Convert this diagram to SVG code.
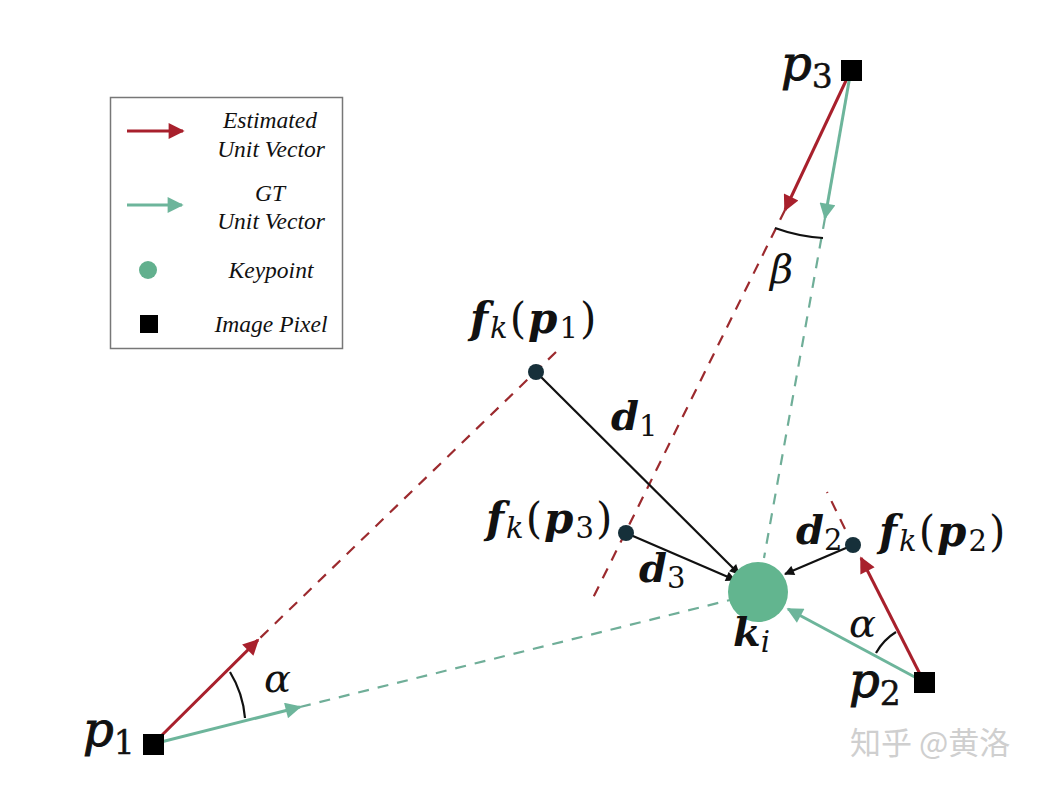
<svg xmlns="http://www.w3.org/2000/svg" width="1043" height="787" viewBox="0 0 1043 787">
<defs>
<style>
.red{stroke:#a8202c;stroke-width:3;fill:none}
.grn{stroke:#6db59b;stroke-width:3;fill:none}
.rdash{stroke:#9c2a2e;stroke-width:2.2;fill:none;stroke-dasharray:11 9}
.gdash{stroke:#6fae98;stroke-width:2.2;fill:none;stroke-dasharray:11 9}
.blk{stroke:#111;stroke-width:2.2;fill:none}
.arc{stroke:#111;stroke-width:2.2;fill:none}
.pix{fill:#000}
.dot{fill:#16303a}
.leg{font-family:"Liberation Serif",serif;font-style:italic;font-size:23.5px;fill:#111;text-anchor:middle}
.m{font-family:"DejaVu Serif","Liberation Serif",serif;font-size:40px;fill:#111}
.fk{font-size:42px;letter-spacing:2px}
.pl{font-style:italic;font-size:48px;stroke:#111;stroke-width:1}
.bi{font-weight:bold;font-style:italic}
.it{font-style:italic}
.sub{font-size:29px}
</style>
<marker id="ar" viewBox="0 0 10 10" refX="9" refY="5" markerWidth="22" markerHeight="16" markerUnits="userSpaceOnUse" orient="auto"><path d="M0,0 L10,5 L0,10 z" fill="#a8202c"/></marker>
<marker id="ag" viewBox="0 0 10 10" refX="9" refY="5" markerWidth="22" markerHeight="16" markerUnits="userSpaceOnUse" orient="auto"><path d="M0,0 L10,5 L0,10 z" fill="#6db59b"/></marker>
<marker id="ak" viewBox="0 0 10 10" refX="9" refY="5" markerWidth="12" markerHeight="10" markerUnits="userSpaceOnUse" orient="auto"><path d="M0,0 L10,5 L0,10 z" fill="#111"/></marker>
</defs>
<rect width="1043" height="787" fill="#fff"/>

<g id="legend">
<rect x="110.5" y="97.5" width="232" height="251" fill="#fff" stroke="#777" stroke-width="1.5"/>
<line x1="127" y1="131" x2="183" y2="131" class="red" stroke-width="2.5" marker-end="url(#ar)"/>
<text class="leg" x="270" y="128">Estimated</text>
<text class="leg" x="271" y="157">Unit Vector</text>
<line x1="127" y1="205" x2="182" y2="205" class="grn" stroke-width="2.5" marker-end="url(#ag)"/>
<text class="leg" x="270" y="201">GT</text>
<text class="leg" x="271" y="229">Unit Vector</text>
<circle cx="148" cy="270" r="9" fill="#62b08e"/>
<text class="leg" x="271" y="278">Keypoint</text>
<rect x="140" y="315" width="18" height="18" class="pix"/>
<text class="leg" x="271" y="332">Image Pixel</text>
</g>

<g id="connectors">
<!-- p1 -->
<line x1="556" y1="352" x2="258" y2="640" class="rdash"/>
<line x1="153" y1="744" x2="258" y2="640" class="red" marker-end="url(#ar)"/>
<line x1="300" y1="707" x2="730" y2="600" class="gdash"/>
<line x1="153" y1="744" x2="300" y2="707" class="grn" marker-end="url(#ag)"/>
<path d="M230,672 A105,105 0 0 1 245,718" class="arc"/>
<!-- p3 -->
<line x1="785" y1="210" x2="592" y2="600" class="rdash"/>
<line x1="851" y1="70" x2="785" y2="210" class="red" marker-end="url(#ar)"/>
<line x1="825" y1="218" x2="764" y2="558" class="gdash"/>
<line x1="851" y1="70" x2="825" y2="218" class="grn" marker-end="url(#ag)"/>
<path d="M775,228 A172,172 0 0 0 823,238" class="arc"/>
<!-- p2 -->
<line x1="845" y1="529" x2="827" y2="492" class="rdash"/>
<line x1="924" y1="682" x2="861" y2="558" class="red" marker-end="url(#ar)"/>
<line x1="924" y1="682" x2="788" y2="609" class="grn" marker-end="url(#ag)"/>
<path d="M876,653 A57,57 0 0 1 896,632" class="arc"/>
<!-- distances -->
<line x1="536" y1="372" x2="739" y2="574" class="blk" marker-end="url(#ak)"/>
<line x1="626" y1="533" x2="735" y2="580" class="blk" marker-end="url(#ak)"/>
<line x1="853" y1="545" x2="785" y2="574" class="blk" marker-end="url(#ak)"/>
</g>

<g id="ki">
<circle cx="758" cy="592" r="30" fill="#62b58f"/>
<text class="m" x="733" y="646"><tspan class="bi">k</tspan><tspan class="it sub" dy="6">i</tspan></text>
</g>
<g id="fk_p1">
<circle cx="536" cy="372" r="8" class="dot"/>
<text class="m fk" x="470" y="333"><tspan class="bi">f</tspan><tspan class="it sub" dy="5">k</tspan><tspan dy="-5">(</tspan><tspan class="bi">p</tspan><tspan class="sub" dy="5">1</tspan><tspan dy="-5">)</tspan></text>
</g>
<g id="fk_p3">
<circle cx="626" cy="533" r="8" class="dot"/>
<text class="m fk" x="486" y="533"><tspan class="bi">f</tspan><tspan class="it sub" dy="5">k</tspan><tspan dy="-5">(</tspan><tspan class="bi">p</tspan><tspan class="sub" dy="5">3</tspan><tspan dy="-5">)</tspan></text>
</g>
<g id="fk_p2">
<circle cx="853" cy="545" r="8" class="dot"/>
<text class="m fk" x="879" y="546"><tspan class="bi">f</tspan><tspan class="it sub" dy="5">k</tspan><tspan dy="-5">(</tspan><tspan class="bi">p</tspan><tspan class="sub" dy="5">2</tspan><tspan dy="-5">)</tspan></text>
</g>
<g id="p1">
<rect x="143" y="734" width="21" height="21" class="pix"/>
<text class="m pl" x="83" y="746">p<tspan font-style="normal" font-size="33" stroke-width="0.4" dy="8">1</tspan></text>
</g>
<g id="p2">
<rect x="914" y="672" width="21" height="21" class="pix"/>
<text class="m pl" x="849" y="697">p<tspan font-style="normal" font-size="33" stroke-width="0.4" dy="8">2</tspan></text>
</g>
<g id="p3">
<rect x="841" y="60" width="21" height="21" class="pix"/>
<text class="m pl" x="781" y="80">p<tspan font-style="normal" font-size="33" stroke-width="0.4" dy="8">3</tspan></text>
</g>
<g id="labels">
<text class="m" x="611" y="430"><tspan class="bi">d</tspan><tspan class="sub" dy="6">1</tspan></text>
<text class="m" x="639" y="582"><tspan class="bi">d</tspan><tspan class="sub" dy="6">3</tspan></text>
<text class="m" x="796" y="544"><tspan class="bi">d</tspan><tspan class="sub" dy="6">2</tspan></text>
<text class="m it" x="264" y="692">α</text>
<text class="m it" x="849" y="637">α</text>
<text class="m it" x="770" y="283">β</text>
<text x="850" y="754" font-family="'Noto Sans CJK SC',sans-serif" font-size="31" fill="#cfcfcf">知乎 @黄洛</text>
</g>
</svg>
